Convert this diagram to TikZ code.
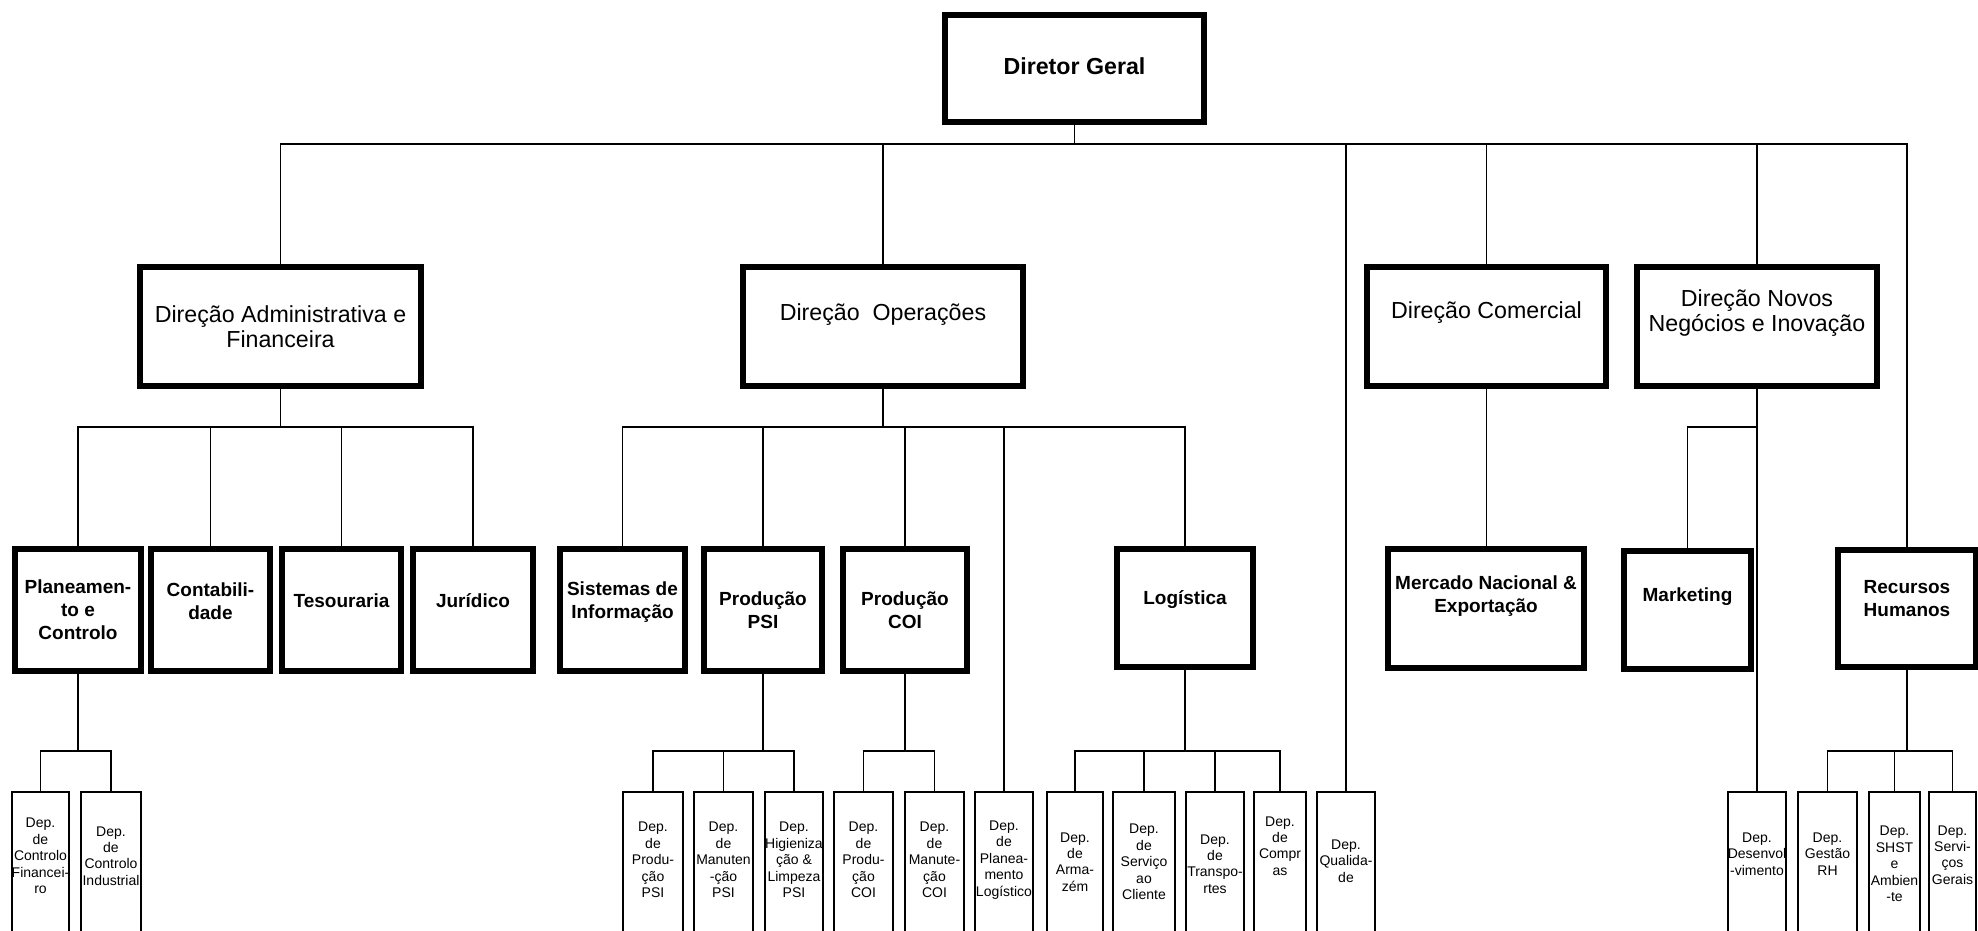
\documentclass[tikz,border=0pt]{standalone}
\usepackage{fontspec}
\setmainfont{Liberation Sans}
\begin{document}
\begin{tikzpicture}[x=0.5pt,y=-0.5pt]
\tikzset{
  bx/.style 2 args={draw, rectangle, line width=3pt, minimum width=#1, minimum height=#2, inner sep=0pt, outer sep=0pt},
  dep/.style={draw, rectangle, line width=1pt, minimum width=#1, minimum height=74pt, inner sep=0pt, outer sep=0pt},
  conn/.style={line width=0.85pt},
  tz/.style={font=\bfseries\fontsize{11.6}{14}\selectfont, align=center, inner sep=0pt},
  ta/.style={font=\fontsize{11.6}{12.6}\selectfont, align=center, inner sep=0pt},
  tb/.style={font=\bfseries\fontsize{9.5}{11.5}\selectfont, align=center, inner sep=0pt},
  tc/.style={font=\fontsize{7}{8.2}\selectfont, align=center, inner sep=0pt},
}
\useasboundingbox (0,0) rectangle (1978,931);
\clip (0,0) rectangle (1978,931);
\coordinate (b0) at (0,144);
\coordinate (b1) at (0,427);
\coordinate (b3) at (0,751);

% level 0
\node[bx={129.5pt}{53.5pt}] (dg) at (1074.5,68.5) {};
\node[tz] (dgT) at (1074.5,66) {Diretor Geral};

% level 1
\node[bx={140.5pt}{59.5pt}] (adm) at (280.5,326.5) {};
\node[ta] (admT) at (280.5,326.5) {Direção Administrativa e\\Financeira};
\node[bx={140pt}{59.5pt}] (ops) at (883,326.5) {};
\node[ta] (opsT) at (883,315) {Direção~~Operações};
\node[bx={119.5pt}{59.5pt}] (com) at (1486.5,326.5) {};
\node[ta] (comT) at (1486.5,313) {Direção Comercial};
\node[bx={120pt}{59.5pt}] (nov) at (1757,326.5) {};
\node[ta] (novT) at (1757,313) {Direção Novos\\Negócios e Inovação};

% level 2
\node[bx={63pt}{61pt}] (plan) at (78,610) {};
\node[tb] (planT) at (78,610) {Planeamen-\\to e\\Controlo};
\node[bx={59.5pt}{61pt}] (cont) at (210.5,610) {};
\node[tb] (contT) at (210.5,601) {Contabili-\\dade};
\node[bx={59.5pt}{61pt}] (tes) at (341.5,610) {};
\node[tb] (tesT) at (341.5,601) {Tesouraria};
\node[bx={60pt}{61pt}] (jur) at (473,610) {};
\node[tb] (jurT) at (473,601) {Jurídico};
\node[bx={62.5pt}{61pt}] (sis) at (622.5,610) {};
\node[tb] (sisT) at (622.5,602) {Sistemas de\\Informação};
\node[bx={59pt}{61pt}] (psi) at (763,610) {};
\node[tb] (psiT) at (763,610) {Produção\\PSI};
\node[bx={62pt}{61pt}] (coi) at (905,610) {};
\node[tb] (coiT) at (905,610) {Produção\\COI};
\node[bx={68pt}{59pt}] (log) at (1185,608) {};
\node[tb] (logT) at (1185,600) {Logística};
\node[bx={98pt}{59.5pt}] (mer) at (1486,608.5) {};
\node[tb] (merT) at (1486,596) {Mercado Nacional \&\\Exportação};
\node[bx={63.5pt}{59pt}] (mkt) at (1687.5,610) {};
\node[tb] (mktT) at (1687.5,597) {Marketing};
\node[bx={69pt}{58.5pt}] (rh) at (1907,608.5) {};
\node[tb] (rhT) at (1907,599) {Recursos\\Humanos};

% level 3
\node[dep={28.5pt}] (dcf) at (40.5,866) {};
\node[tc] (dcfT) at (40.5,856) {Dep.\\de\\Controlo\\Financei-\\ro};
\node[dep={30pt}] (dci) at (111,866) {};
\node[tc] (dciT) at (111,856) {Dep.\\de\\Controlo\\Industrial};
\node[dep={30pt}] (dpp) at (653,866) {};
\node[tc] (dppT) at (653,860) {Dep.\\de\\Produ-\\ção\\PSI};
\node[dep={29.5pt}] (dmp) at (723.5,866) {};
\node[tc] (dmpT) at (723.5,860) {Dep.\\de\\Manuten\\-ção\\PSI};
\node[dep={29pt}] (dhp) at (794,866) {};
\node[tc] (dhpT) at (794,860) {Dep.\\Higieniza\\ção \&\\Limpeza\\PSI};
\node[dep={29.5pt}] (dpc) at (863.5,866) {};
\node[tc] (dpcT) at (863.5,860) {Dep.\\de\\Produ-\\ção\\COI};
\node[dep={29.5pt}] (dmc) at (934.5,866) {};
\node[tc] (dmcT) at (934.5,860) {Dep.\\de\\Manute-\\ção\\COI};
\node[dep={29pt}] (dpl) at (1004,866) {};
\node[tc] (dplT) at (1004,860) {Dep.\\de\\Planea-\\mento\\Logístico};
\node[dep={28pt}] (dar) at (1075,866) {};
\node[tc] (darT) at (1075,862) {Dep.\\de\\Arma-\\zém};
\node[dep={31pt}] (dsc) at (1144,866) {};
\node[tc] (dscT) at (1144,862) {Dep.\\de\\Serviço\\ao\\Cliente};
\node[dep={29pt}] (dtr) at (1215,866) {};
\node[tc] (dtrT) at (1215,864) {Dep.\\de\\Transpo-\\rtes};
\node[dep={26pt}] (dco) at (1280,866) {};
\node[tc] (dcoT) at (1280,846) {Dep.\\de\\Compr\\as};
\node[dep={29pt}] (dq) at (1346,866) {};
\node[tc] (dqT) at (1346,861) {Dep.\\Qualida-\\de};
\node[dep={29pt}] (dde) at (1757,866) {};
\node[tc] (ddeT) at (1757,854) {Dep.\\Desenvol\\-vimento};
\node[dep={29.5pt}] (dgr) at (1827.5,866) {};
\node[tc] (dgrT) at (1827.5,854) {Dep.\\Gestão\\RH};
\node[dep={25.5pt}] (dsh) at (1894.5,866) {};
\node[tc] (dshT) at (1894.5,864) {Dep.\\SHST\\e\\Ambien\\-te};
\node[dep={23.5pt}] (dsg) at (1952.5,866) {};
\node[tc] (dsgT) at (1952.5,855) {Dep.\\Servi-\\ços\\Gerais};

% connectors level 0 -> 1
\draw[conn] (dg.south) -- (dg.south |- b0);
\draw[conn] (adm.north) |- (b0 -| rh.north) -- (rh.north);
\draw[conn] (ops.north) -- (ops.north |- b0);
\draw[conn] (com.north) -- (com.north |- b0);
\draw[conn] (nov.north) -- (nov.north |- b0);
\draw[conn] (dq.north) -- (dq.north |- b0);

% adm
\draw[conn] (adm.south) -- (adm.south |- b1);
\draw[conn] (plan.north) |- (b1 -| jur.north) -- (jur.north);
\draw[conn] (cont.north) -- (cont.north |- b1);
\draw[conn] (tes.north) -- (tes.north |- b1);
% ops
\draw[conn] (ops.south) -- (ops.south |- b1);
\draw[conn] (sis.north) |- (b1 -| log.north) -- (log.north);
\draw[conn] (psi.north) -- (psi.north |- b1);
\draw[conn] (coi.north) -- (coi.north |- b1);
\draw[conn] (dpl.north) -- (dpl.north |- b1);
% com
\draw[conn] (com.south) -- (com.south |- mer.north);
% novos
\draw[conn] (nov.south) -- (nov.south |- dde.north);
\draw[conn] (mkt.north) |- (b1 -| nov.south);

% level 2 -> 3
\draw[conn] (plan.south) -- (plan.south |- b3);
\draw[conn] (dcf.north) |- (b3 -| dci.north) -- (dci.north);
\draw[conn] (psi.south) -- (psi.south |- b3);
\draw[conn] (dpp.north) |- (b3 -| dhp.north) -- (dhp.north);
\draw[conn] (dmp.north) -- (dmp.north |- b3);
\draw[conn] (coi.south) -- (coi.south |- b3);
\draw[conn] (dpc.north) |- (b3 -| dmc.north) -- (dmc.north);
\draw[conn] (log.south) -- (log.south |- b3);
\draw[conn] (dar.north) |- (b3 -| dco.north) -- (dco.north);
\draw[conn] (dsc.north) -- (dsc.north |- b3);
\draw[conn] (dtr.north) -- (dtr.north |- b3);
\draw[conn] (rh.south) -- (rh.south |- b3);
\draw[conn] (dgr.north) |- (b3 -| dsg.north) -- (dsg.north);
\draw[conn] (dsh.north) -- (dsh.north |- b3);
\end{tikzpicture}
\end{document}
